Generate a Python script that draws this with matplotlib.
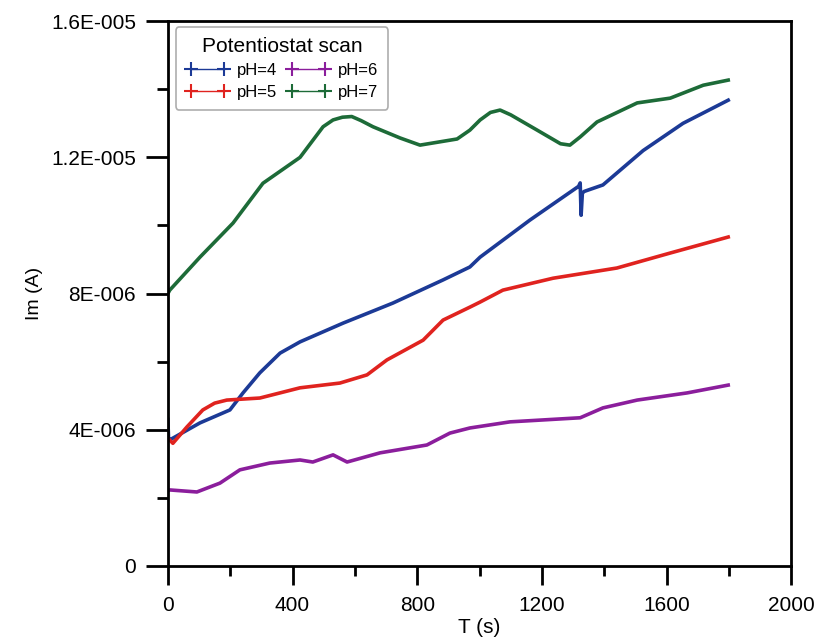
import matplotlib
matplotlib.use("Agg")
import matplotlib.pyplot as plt
from matplotlib.lines import Line2D
from matplotlib.ticker import FuncFormatter, MultipleLocator

plt.rcParams['font.family'] = ['Liberation Sans', 'DejaVu Sans']

# pH=4 (blue)
t_ph4 = [0, 2, 6, 103, 199, 241, 295, 360, 424, 562, 722, 883, 969, 1002, 1162,
         1318, 1323, 1326, 1330, 1336, 1396, 1525, 1653, 1798]
i_ph4 = [4.3, 3.75, 3.7, 4.2, 4.58, 5.08, 5.67, 6.25, 6.58, 7.13, 7.72, 8.4, 8.78, 9.07, 10.16,
         11.15, 11.25, 10.3, 10.95, 11.0, 11.19, 12.2, 13.0, 13.68]

# pH=5 (red)
t_ph5 = [0, 16, 61, 112, 150, 189, 295, 424, 552, 639, 703, 819, 883, 969, 1002, 1075, 1236, 1441, 1612, 1798]
i_ph5 = [3.75, 3.6, 4.08, 4.58, 4.78, 4.87, 4.93, 5.23, 5.37, 5.61, 6.05, 6.63, 7.22, 7.6, 7.75, 8.1, 8.45, 8.75, 9.19, 9.66]

# pH=6 (purple)
t_ph6 = [0, 6, 93, 167, 231, 327, 424, 465, 530, 575, 681, 831, 905, 969, 1098, 1323, 1396, 1506, 1666, 1798]
i_ph6 = [2.2, 2.23, 2.17, 2.43, 2.82, 3.02, 3.11, 3.05, 3.26, 3.05, 3.32, 3.55, 3.9, 4.05, 4.23, 4.35, 4.64, 4.87, 5.08, 5.31]

# pH=7 (green)
t_ph7 = [0, 6, 103, 209, 305, 424, 498, 530, 560, 590, 620, 658, 745, 809, 928, 969, 1002, 1035, 1066, 1100,
         1185, 1260, 1290, 1323, 1377, 1506, 1612, 1718, 1798]
i_ph7 = [8.0, 8.1, 9.07, 10.07, 11.24, 12.0, 12.9, 13.1, 13.18, 13.2, 13.08, 12.9, 12.57, 12.36, 12.54, 12.8, 13.1, 13.32, 13.39, 13.25,
         12.8, 12.4, 12.36, 12.6, 13.04, 13.6, 13.74, 14.12, 14.27]

series = [("pH=4", t_ph4, i_ph4, "#1c3a96"),
          ("pH=5", t_ph5, i_ph5, "#e0231f"),
          ("pH=6", t_ph6, i_ph6, "#8b1e9c"),
          ("pH=7", t_ph7, i_ph7, "#1d6b38")]


def sci_fmt(v, pos):
    if abs(v) < 1e-12:
        return "0"
    exp = 0
    m = v
    while abs(m) < 1:
        m *= 10
        exp -= 1
    s = ("%.1f" % m).rstrip("0").rstrip(".")
    return "%sE-%03d" % (s, -exp)


fig = plt.figure(figsize=(8.19, 6.43), dpi=100)
ax = fig.add_axes([0.205, 0.12, 0.761, 0.847])

for name, t, i, c in series:
    ax.plot(t, [v * 1e-6 for v in i], color=c, lw=2.6, solid_joinstyle='round')

ax.set_xlim(0, 2000)
ax.set_ylim(0, 1.6e-5)
ax.xaxis.set_major_locator(MultipleLocator(400))
ax.xaxis.set_minor_locator(MultipleLocator(200))
ax.yaxis.set_major_locator(MultipleLocator(4e-6))
ax.yaxis.set_minor_locator(MultipleLocator(2e-6))
ax.yaxis.set_major_formatter(FuncFormatter(sci_fmt))

for s in ax.spines.values():
    s.set_linewidth(2)
ax.tick_params(axis='both', which='both', direction='out', width=2, labelsize=15, colors='black')
ax.tick_params(axis='y', which='major', length=16, pad=7)
ax.tick_params(axis='y', which='minor', length=8)
ax.tick_params(axis='x', which='major', length=14, pad=8)
ax.tick_params(axis='x', which='minor', length=7)

ax.set_xlabel("T (s)", fontsize=15, labelpad=2)
ax.set_ylabel("Im (A)", fontsize=14, labelpad=6)

handles = [Line2D([0], [0], color=c, lw=1, marker='+', markersize=10, markeredgewidth=1.5)
           for name, t, i, c in series]
labels = [name for name, t, i, c in series]
leg = ax.legend(handles, labels, title="Potentiostat scan", ncol=2, loc='upper left',
                bbox_to_anchor=(0.013, 0.989), borderaxespad=0, fontsize=12, title_fontsize=15,
                numpoints=2, columnspacing=0.6, handlelength=2.6, handletextpad=0.45,
                labelspacing=0.4, borderpad=0.6, frameon=True, fancybox=True)
leg.get_frame().set_edgecolor('#999999')
leg.get_frame().set_linewidth(1.2)

fig.savefig("out.png", dpi=100)
